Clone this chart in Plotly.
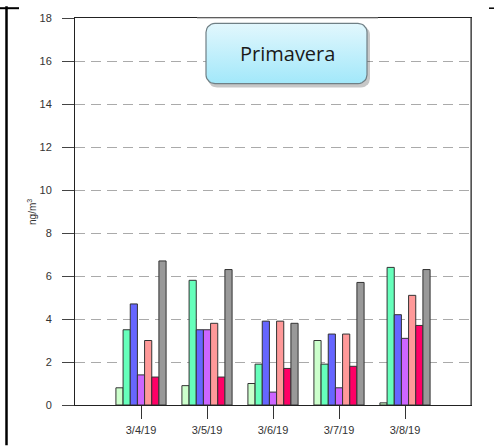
import numpy as np
import plotly.graph_objects as go

# ---- data ----
dates = ["3/4/19", "3/5/19", "3/6/19", "3/7/19", "3/8/19"]
s1 = [0.8, 0.9, 1.0, 3.0, 0.1]
s2 = [3.5, 5.8, 1.9, 1.9, 6.4]
s3 = [4.7, 3.5, 3.9, 3.3, 4.2]
s4 = [1.4, 3.5, 0.6, 0.8, 3.1]
s5 = [3.0, 3.8, 3.9, 3.3, 5.1]
s6 = [1.3, 1.3, 1.7, 1.8, 3.7]
s7 = [6.7, 6.3, 3.8, 5.7, 6.3]
series = [s1, s2, s3, s4, s5, s6, s7]
colors = ["#ccffcc", "#66ffbb", "#6666ff", "#cc66ff", "#ff9999", "#ff0066", "#999999"]
y_ticks = [0, 2, 4, 6, 8, 10, 12, 14, 16, 18]

W, H = 494, 448
L, R, T, B = 75, 471, 12, 407

fig = go.Figure()
for i, (vals, c) in enumerate(zip(series, colors)):
    fig.add_trace(go.Bar(
        x=dates, y=vals, name=f"s{i+1}",
        marker=dict(color=c, line=dict(color="#333333", width=1)),
        showlegend=False,
    ))

# helpers: pixel -> paper
def px(x):
    return (x - L) / (R - L)

def py(y):
    return (B - y) / (B - T)

def rrect(x0, y0, x1, y1, r, n=8):
    pts = []
    corners = [(x1 - r, y0 + r, -90, 0), (x1 - r, y1 - r, 0, 90),
               (x0 + r, y1 - r, 90, 180), (x0 + r, y0 + r, 180, 270)]
    for cx, cy, a0, a1 in corners:
        for a in np.linspace(np.radians(a0), np.radians(a1), n):
            pts.append((cx + r * np.cos(a), cy + r * np.sin(a)))
    pts.append(pts[0])
    xs, ys = zip(*pts)
    return list(xs), list(ys)

# shadow
sx, sy = rrect(208, 20, 370, 83, 9)
fig.add_trace(go.Scatter(x=sx, y=sy, xaxis="x2", yaxis="y2", mode="lines",
                         fill="toself", fillcolor="rgba(0,0,0,0.22)",
                         line=dict(width=0), hoverinfo="skip", showlegend=False))
bx, by = rrect(206, 17.5, 367, 79, 9)
fig.add_trace(go.Scatter(x=bx, y=by, xaxis="x2", yaxis="y2", mode="lines",
                         fill="toself",
                         fillgradient=dict(type="vertical",
                                           colorscale=[[0, "#a2e8fa"], [1, "#e2f7fd"]]),
                         line=dict(color="#6f7f85", width=1.2),
                         hoverinfo="skip", showlegend=False))

fig.update_layout(
    width=W, height=H,
    margin=dict(l=L, r=W - R, t=T, b=H - B),
    paper_bgcolor="white", plot_bgcolor="white",
    barmode="group", bargap=0.24, bargroupgap=0,
    font=dict(family="Liberation Sans, Arial", size=11, color="#333333"),
    xaxis=dict(
        type="category", range=[-1, 5], showgrid=False,
        showline=True, linecolor="#222222", linewidth=1, mirror=True,
        ticks="outside", ticklen=13, tickcolor="#333333", tickwidth=1,
        tickfont=dict(size=11, color="#333333"), ticklabelstandoff=2,
    ),
    yaxis=dict(
        range=[0, 18], tickvals=y_ticks, showgrid=True,
        gridcolor="#aaaaaa", gridwidth=1.3, griddash="10px,6px",
        zeroline=False, showline=True, linecolor="#222222", linewidth=1, mirror=True,
        ticks="outside", ticklen=12, tickcolor="#444444", tickwidth=1,
        tickfont=dict(size=11, color="#333333"), ticklabelstandoff=8,
    ),
    xaxis2=dict(overlaying="x", range=[L, R], visible=False, fixedrange=True),
    yaxis2=dict(overlaying="y", range=[B, T], visible=False, fixedrange=True),
    annotations=[
        dict(text="Primavera", x=px(287), y=py(48), xref="paper", yref="paper",
             xanchor="center", yanchor="middle",
             showarrow=False, font=dict(family="Open Sans", size=20, color="#1a1a1a")),
        dict(text="ng/m<sup>3</sup>", x=px(32), y=py(210), xref="paper", yref="paper",
             xanchor="center", yanchor="middle",
             showarrow=False, textangle=-90, font=dict(size=10, color="#333333")),
    ],
    shapes=[
        dict(type="line", xref="paper", yref="paper", x0=px(6.5), x1=px(6.5), y0=py(0), y1=py(448),
             line=dict(color="black", width=2.5)),
        dict(type="line", xref="paper", yref="paper", x0=px(0), x1=px(19), y0=py(2), y1=py(2),
             line=dict(color="black", width=2)),
        dict(type="line", xref="paper", yref="paper", x0=px(489), x1=px(494), y0=py(2), y1=py(2),
             line=dict(color="black", width=1.5)),
        dict(type="line", xref="paper", yref="paper", x0=px(197), x1=px(378), y0=1, y1=1,
             line=dict(color="#999999", width=1.2)),
        dict(type="line", xref="paper", yref="paper", x0=1, x1=1, y0=0, y1=1,
             line=dict(color="#666666", width=1.5)),
    ],
)

fig.write_html("out.html", config={"displayModeBar": False},
               post_script="document.body.style.margin='0px';")
